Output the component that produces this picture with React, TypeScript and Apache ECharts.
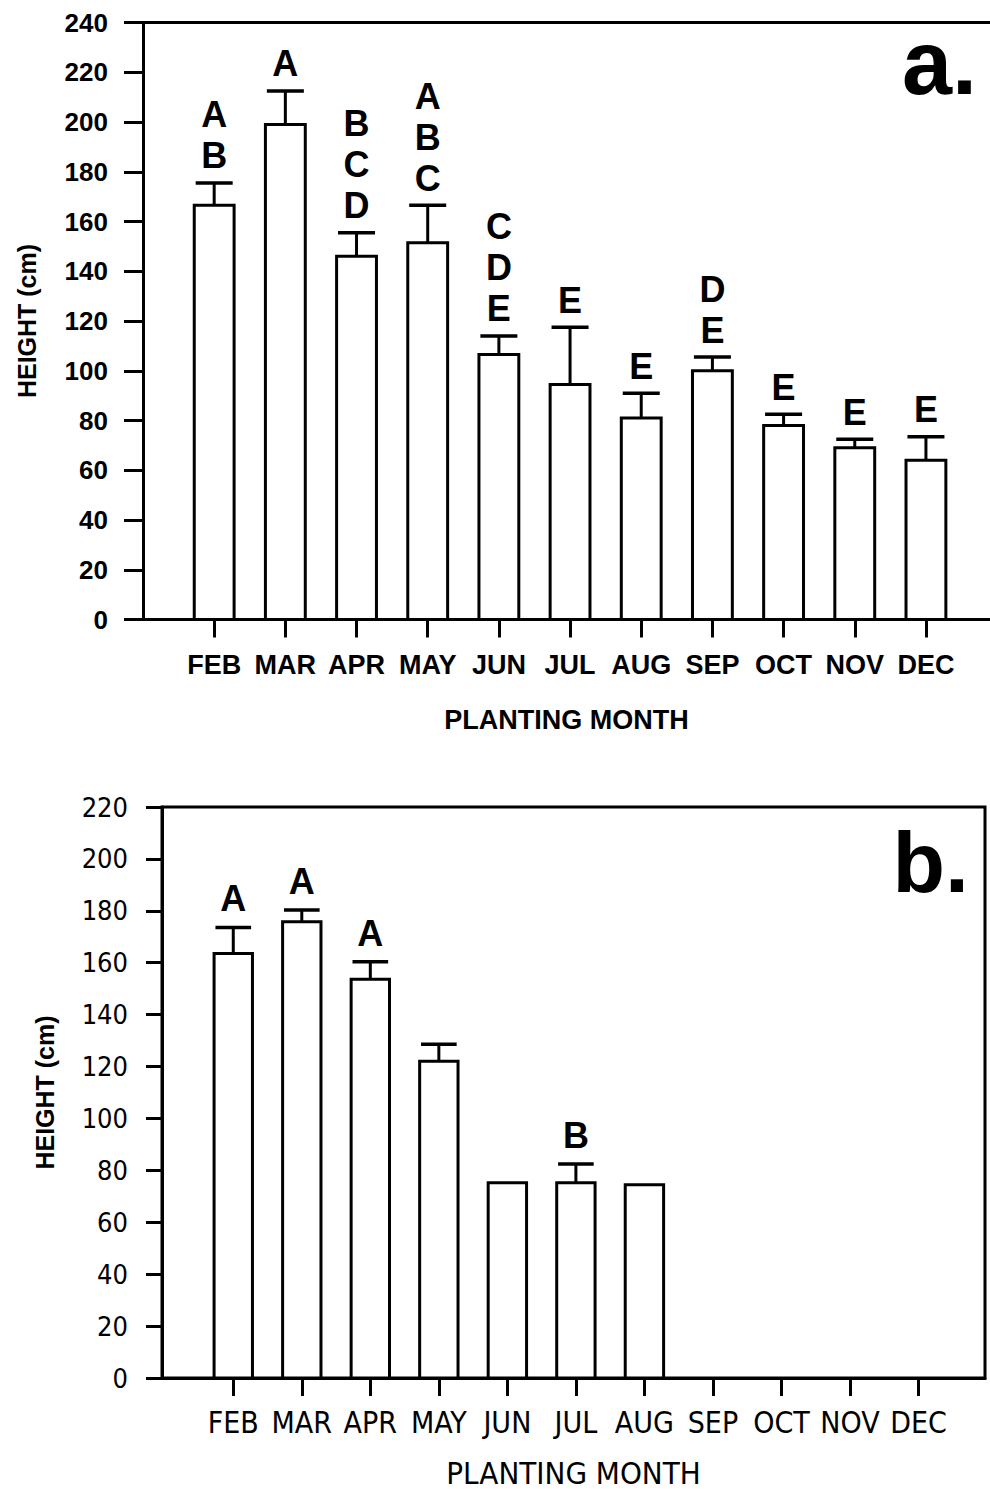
import React, { useEffect, useRef } from "react";
import * as echarts from "echarts";

// Planting months shared by both panels
const months = ["FEB", "MAR", "APR", "MAY", "JUN", "JUL", "AUG", "SEP", "OCT", "NOV", "DEC"];

// Panel a: mean plant height (cm), standard error, and significance letters
const heightA = [166.5, 199, 146, 151.5, 106.5, 94.5, 81, 100, 78, 69, 64];
const errA = [9, 13.5, 9.5, 15, 7.5, 23, 10, 5.5, 4.5, 3.5, 9.5];
const lettersA = ["AB", "A", "BCD", "ABC", "CDE", "E", "E", "DE", "E", "E", "E"];

// Panel b: only FEB–AUG plantings produced plants
const heightB = [163.6, 175.8, 153.6, 122, 75.2, 75.2, 74.5];
const errB = [10, 4.5, 6.8, 6.6, 0, 7.3, 0];
const lettersB = ["A", "A", "A", "", "", "B", ""];

const yTicksA = { min: 0, max: 240, interval: 20 };
const yTicksB = { min: 0, max: 220, interval: 20 };

const SANS = "'Liberation Sans', Arial, sans-serif";
const NARROW = "'Liberation Sans Narrow', 'Arial Narrow', 'DejaVu Sans Condensed', 'Liberation Sans', sans-serif";

const monthIdx = months.map((_, i) => i);

function buildSeries(
  heights: number[],
  errs: number[],
  letters: string[],
  axisIndex: number,
  letterOffset: number
) {
  const data = heights.map((h, i) => [i, h, errs[i]]);
  return {
    type: "custom",
    xAxisIndex: axisIndex,
    yAxisIndex: axisIndex,
    clip: false,
    data,
    renderItem: (_params: any, api: any) => {
      const i = api.value(0);
      const m = api.value(1);
      const e = api.value(2);
      const lab = letters[i] || "";
      const base = api.coord([i, 0]);
      const top = api.coord([i, m]);
      const cap = api.coord([i, m + e]);
      const w = api.size([0.56, 0])[0];
      const cw = api.size([0.52, 0])[0];
      const children: any[] = [
        {
          type: "rect",
          shape: { x: base[0] - w / 2, y: top[1], width: w, height: base[1] - top[1] },
          style: { fill: "#fff", stroke: "#000", lineWidth: 3 },
        },
      ];
      if (e > 0) {
        children.push({
          type: "line",
          shape: { x1: top[0], y1: top[1], x2: cap[0], y2: cap[1] },
          style: { stroke: "#000", lineWidth: 3 },
        });
        children.push({
          type: "line",
          shape: { x1: cap[0] - cw / 2, y1: cap[1], x2: cap[0] + cw / 2, y2: cap[1] },
          style: { stroke: "#000", lineWidth: 3.5 },
        });
      }
      if (lab) {
        children.push({
          type: "text",
          style: {
            text: lab.split("").join("\n"),
            x: cap[0],
            y: cap[1] - letterOffset,
            align: "center",
            verticalAlign: "bottom",
            fontFamily: SANS,
            fontWeight: "bold",
            fontSize: 36,
            lineHeight: 41,
            fill: "#000",
          },
        });
      }
      return { type: "group", children };
    },
  };
}

export default function App() {
  const ref = useRef<HTMLDivElement>(null);

  useEffect(() => {
    if (!ref.current) return;
    const chart = echarts.init(ref.current, undefined, { renderer: "svg" });

    const axisLine = { show: true, onZero: false, lineStyle: { color: "#000", width: 3 } };
    const rangeA = { min: -1, max: 10.9 };
    const rangeB = { min: -1.04, max: 10.97 };

    const option: any = {
      animation: false,
      backgroundColor: "#fff",
      grid: [
        // panel a runs off the right edge, so only its top rule is drawn
        { left: 143, top: 22.5, width: 847, height: 597, show: false },
        {
          left: 162, top: 807, width: 823, height: 572,
          show: true, borderColor: "#000", borderWidth: 3, backgroundColor: "transparent",
        },
      ],
      xAxis: [
        {
          type: "value", gridIndex: 0, ...rangeA,
          axisLine,
          splitLine: { show: false },
          axisTick: { show: true, inside: false, length: 18, lineStyle: { color: "#000", width: 3 }, customValues: monthIdx },
          axisLabel: {
            customValues: monthIdx, margin: 32, color: "#000",
            fontFamily: SANS, fontWeight: "bold", fontSize: 27,
            formatter: (v: number) => months[Math.round(v)] ?? "",
          },
          name: "PLANTING MONTH", nameLocation: "middle", nameGap: 87,
          nameTextStyle: { color: "#000", fontFamily: SANS, fontWeight: "bold", fontSize: 27 },
        },
        {
          type: "value", gridIndex: 1, ...rangeB,
          axisLine,
          splitLine: { show: false },
          axisTick: { show: true, inside: false, length: 18, lineStyle: { color: "#000", width: 3 }, customValues: monthIdx },
          axisLabel: {
            customValues: monthIdx, margin: 29, color: "#000",
            fontFamily: NARROW, fontSize: 30,
            formatter: (v: number) => months[Math.round(v)] ?? "",
          },
          name: "PLANTING MONTH", nameLocation: "middle", nameGap: 79,
          nameTextStyle: { color: "#000", fontFamily: NARROW, fontSize: 31 },
        },
        {
          // top rule of panel a
          type: "value", gridIndex: 0, position: "top", ...rangeA,
          axisLine,
          splitLine: { show: false },
          axisTick: { show: false },
          axisLabel: { show: false },
        },
      ],
      yAxis: [
        {
          type: "value", gridIndex: 0, ...yTicksA,
          axisLine,
          splitLine: { show: false },
          axisTick: { show: true, inside: false, length: 19, lineStyle: { color: "#000", width: 3 } },
          axisLabel: { margin: 35, color: "#000", fontFamily: SANS, fontWeight: "bold", fontSize: 26 },
          name: "HEIGHT (cm)", nameLocation: "middle", nameGap: 104,
          nameTextStyle: { color: "#000", fontFamily: SANS, fontWeight: "bold", fontSize: 25 },
        },
        {
          type: "value", gridIndex: 1, ...yTicksB,
          axisLine,
          splitLine: { show: false },
          axisTick: { show: true, inside: false, length: 16, lineStyle: { color: "#000", width: 3 } },
          axisLabel: { margin: 34, color: "#000", fontFamily: NARROW, fontSize: 27 },
          name: "HEIGHT (cm)", nameLocation: "middle", nameGap: 105,
          nameTextStyle: { color: "#000", fontFamily: SANS, fontWeight: "bold", fontSize: 25 },
        },
      ],
      series: [
        buildSeries(heightA, errA, lettersA, 0, 6.5),
        buildSeries(heightB, errB, lettersB, 1, 8),
      ],
      graphic: [
        {
          type: "text", x: 977, y: 108, z: 10,
          style: { text: "a.", align: "right", verticalAlign: "bottom", fontFamily: SANS, fontWeight: "bold", fontSize: 90, fill: "#000" },
        },
        {
          type: "text", x: 969, y: 905, z: 10,
          style: { text: "b.", align: "right", verticalAlign: "bottom", fontFamily: SANS, fontWeight: "bold", fontSize: 86, fill: "#000" },
        },
      ],
    };

    chart.setOption(option);
    return () => chart.dispose();
  }, []);

  return (
    <div
      ref={ref}
      style={{ position: "absolute", left: 0, top: 0, width: 990, height: 1489, background: "#fff" }}
    />
  );
}
